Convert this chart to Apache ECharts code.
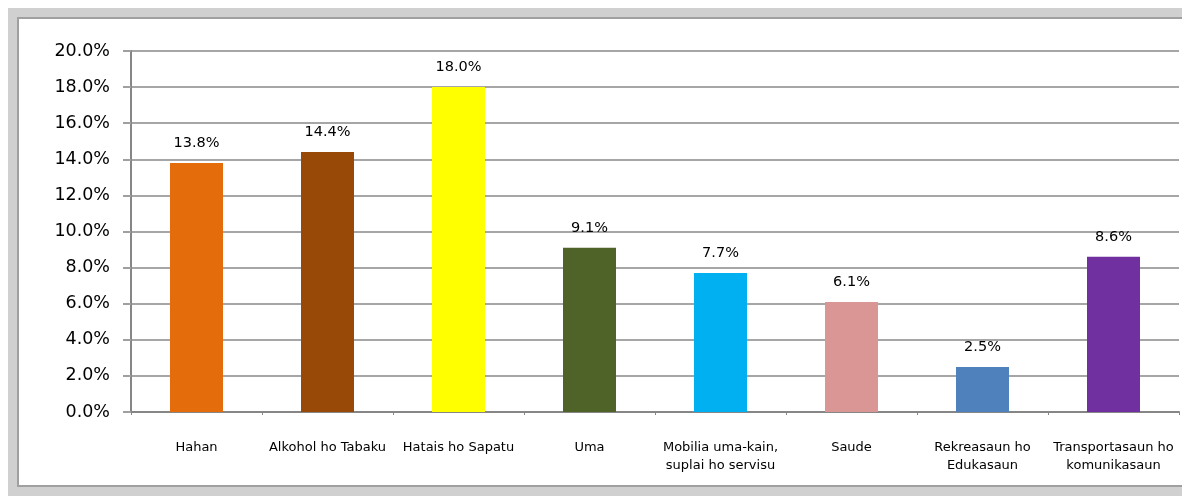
<!DOCTYPE html>
<html>
<head>
<meta charset="utf-8">
<script src="https://cdn.jsdelivr.net/npm/echarts@6/dist/echarts.min.js"></script>
<style>
* { margin: 0; padding: 0; }
body { width: 1182px; height: 496px; background: #fff; position: relative; overflow: hidden; }
#band { position: absolute; left: 8px; top: 8px; width: 1200px; height: 490px; background: #d0d0d0; }
#box { position: absolute; left: 17px; top: 17px; width: 1200px; height: 466px; background: #fff; border: 2px solid #a0a0a0; }
#chart { position: absolute; left: 0; top: 0; width: 1182px; height: 496px; }
</style>
</head>
<body>
<div id="band"></div>
<div id="box"></div>
<div id="chart"></div>
<script>
// kategoria sira
var categories = ['Hahan', 'Alkohol ho Tabaku', 'Hatais ho Sapatu', 'Uma',
  'Mobilia uma-kain,\nsuplai ho servisu', 'Saude', 'Rekreasaun ho\nEdukasaun',
  'Transportasaun ho\nkomunikasaun'];
var values = [13.8, 14.4, 18.0, 9.1, 7.7, 6.1, 2.5, 8.6];
var barColors = ['#E46C0A', '#984807', '#FFFF00', '#4F6228', '#00B0F0', '#D99694', '#4F81BD', '#7030A0'];

var font = 'DejaVu Sans';
var myChart = echarts.init(document.getElementById('chart'));
var option = {
  animation: false,
  grid: { left: 131, right: 3, top: 51, bottom: 84 },
  xAxis: {
    type: 'category',
    data: categories,
    axisLine: { lineStyle: { color: '#868686', width: 2 } },
    axisTick: { show: true, length: 3, lineStyle: { color: '#868686', width: 1 } },
    axisLabel: {
      interval: 0, margin: 27, color: '#000', fontFamily: font, fontSize: 13, lineHeight: 18
    }
  },
  yAxis: {
    type: 'value',
    min: 0, max: 20, interval: 2,
    axisLine: { show: true, lineStyle: { color: '#868686', width: 2 } },
    axisTick: { show: true, length: 8, lineStyle: { color: '#a0a0a0', width: 2 } },
    splitLine: { lineStyle: { color: '#a6a6a6', width: 2 } },
    axisLabel: {
      margin: 21, color: '#000', fontFamily: font, fontSize: 17.5,
      formatter: function (v) { return v.toFixed(1) + '%'; }
    }
  },
  series: [{
    type: 'bar',
    barWidth: 53,
    data: values.map(function (v, i) {
      return { value: v, itemStyle: { color: barColors[i] } };
    }),
    label: {
      show: true, position: 'top', distance: 12,
      color: '#000', fontFamily: font, fontSize: 14.5,
      formatter: function (p) { return p.value.toFixed(1) + '%'; }
    }
  }]
};
myChart.setOption(option);
</script>
</body>
</html>
